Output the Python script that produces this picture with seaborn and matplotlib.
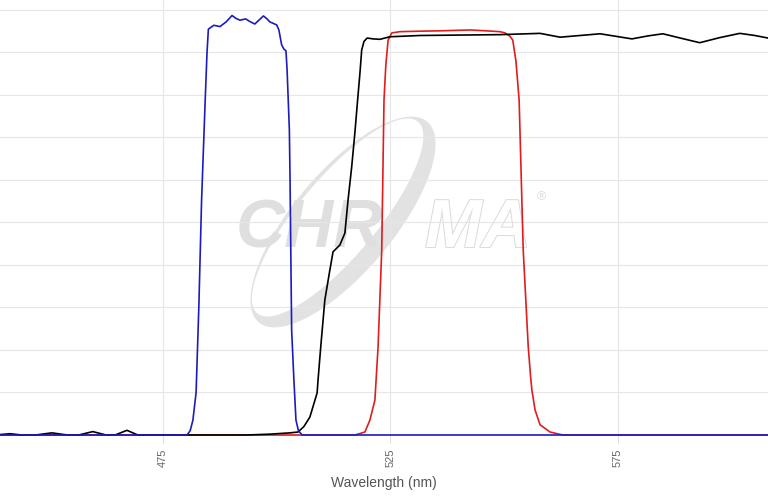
import matplotlib
matplotlib.use("Agg")
import matplotlib.pyplot as plt
import matplotlib.patheffects as pe
from matplotlib.patches import PathPatch
from matplotlib.path import Path
from matplotlib.transforms import Affine2D
import seaborn as sns
import numpy as np
import pandas as pd

# transmission spectra (wavelength nm, % transmission)
exciter_wl = [439.2, 480.3, 481.0, 481.6, 482.3, 482.9, 483.5, 484.3, 484.7, 485.0,
              486.2, 487.55, 488.9, 490.2, 491.1, 491.95, 493.2, 494.1, 495.2, 496.1,
              497.1, 497.9, 498.5, 500.0, 500.5, 501.1, 501.6, 502.05, 502.3, 502.8,
              502.95, 503.3, 503.8, 504.25, 504.8, 505.6, 608.0]
exciter_t = [0, 0, 1, 3.5, 10, 30, 55, 78.8, 90, 95.5,
             96.4, 96.1, 97.2, 98.7, 98.0, 97.6, 97.9, 97.3, 96.7, 97.6,
             98.6, 97.9, 97.2, 96.5, 95.3, 91.8, 90.8, 90.4, 85.9, 71.8,
             60, 24.7, 12.9, 3.5, 1.0, 0, 0]

dichroic_wl = [439.2, 441.4, 444, 447, 450.6, 454, 456.5, 459.6, 462.5, 464.5,
               467.1, 469.5, 475, 493.5, 498.5, 502.9, 504.7, 506.0, 507.3, 508.9,
               509.1, 509.7, 510.6, 511.7, 512.4, 513.9, 515.0, 515.7, 516.5, 517.2,
               517.8, 518.3, 518.7, 519.2, 519.9, 521.2, 522.7, 524.9, 531.5, 540.3,
               549.1, 557.9, 562.3, 566.7, 571.1, 574.6, 578.1, 581.6, 584.9, 589.1,
               593.0, 597.4, 601.8, 605.1, 608.0]
dichroic_t = [0.1, 0.3, 0, 0, 0.5, 0, 0, 0.8, 0, 0,
              1.1, 0, 0, 0, 0.2, 0.5, 0.7, 2.0, 4.2, 9.9,
              12.9, 20.8, 31.8, 38.8, 43.1, 44.7, 47.5, 55.3, 63.1, 71.1,
              78.8, 85.0, 90.6, 92.6, 93.4, 93.2, 93.1, 93.7, 94.0, 94.1,
              94.2, 94.5, 93.6, 94.0, 94.4, 93.8, 93.2, 93.9, 94.4, 93.3,
              92.3, 93.5, 94.5, 94.0, 93.4]

emitter_wl = [439.2, 517.2, 519.4, 520.5, 521.6, 522.3, 523.1, 523.6, 524.0, 524.5,
              525.3, 527.1, 531.0, 535.9, 542.5, 546.0, 549.1, 550.2, 551.3, 551.9,
              552.6, 553.3, 554.2, 555.3, 555.8, 556.1, 556.8, 557.9, 560.1, 562.9,
              608.0]
emitter_t = [0, 0, 0.7, 3.5, 8.2, 20.8, 43.5, 78.8, 87.0, 92.9,
             94.6, 94.9, 95.0, 95.1, 95.3, 95.1, 94.9, 94.6, 93.8, 92.9,
             88.0, 78.8, 43.5, 20.8, 14.0, 10.6, 5.9, 2.4, 0.7, 0,
             0]

x_ticks = [475, 525, 575]

sns.set_style("whitegrid", {"grid.color": "#e6e6e6", "axes.edgecolor": "white"})
plt.rcParams["font.family"] = ["Liberation Sans", "DejaVu Sans"]

fig = plt.figure(figsize=(7.68, 4.97), dpi=100)
ax = fig.add_axes([0, 62 / 497, 1, 1 - 62 / 497])
ax.set_axisbelow(True)

# pixel coordinates (origin top-left) for the faint watermark
px = Affine2D().scale(1 / 768, -1 / 497).translate(0, 1) + fig.transFigure


def ellipse_pts(cx, cy, a, b, ang):
    th = np.linspace(0, 2 * np.pi, 240)
    ca, sa = np.cos(np.radians(ang)), np.sin(np.radians(ang))
    x, y = a * np.cos(th), b * np.sin(th)
    return np.column_stack([cx + x * ca - y * sa, cy - (x * sa + y * ca)])


outer = ellipse_pts(343, 222, 131, 50, 50)
inner = ellipse_pts(337.6, 217.5, 125, 39, 50)[::-1]
ring = Path.make_compound_path(Path(outer, closed=True), Path(inner, closed=True))
ax.add_patch(PathPatch(ring, facecolor="#e2e2e2", edgecolor="none",
                       transform=px, zorder=0.1))

logo_font = dict(family=["Liberation Sans"], fontweight="bold", style="italic",
                 fontsize=49)
ax.text(236, 247, "CHR", transform=px, ha="left", va="baseline",
        color="#dfdfdf", zorder=0.2, **logo_font)
ax.text(425, 247, "MA", transform=px, ha="left", va="baseline",
        color="white", zorder=0.2,
        path_effects=[pe.withStroke(linewidth=1.5, foreground="#dcdcdc")], **logo_font)
ax.text(541, 197, "®", transform=px, ha="center", va="center",
        fontsize=9, color="#dddddd", zorder=0.2)

curves = [
    (emitter_wl, emitter_t, "#e01c1c"),
    (dichroic_wl, dichroic_t, "black"),
    (exciter_wl, exciter_t, "#1c1cbe"),
]
for wl, t, col in curves:
    df = pd.DataFrame({"wl": wl, "t": t})
    sns.lineplot(data=df, x="wl", y="t", color=col, linewidth=1.2,
                 estimator=None, sort=False, ax=ax, clip_on=False)

ax.set_xlim(439.2, 608.0)
ax.set_ylim(0, 102.35)
ax.set_xticks(x_ticks)
ax.set_xticklabels([str(v) for v in x_ticks], rotation=90, fontsize=8, color="#666666")
ax.set_yticks(range(0, 101, 10))
ax.set_yticklabels([])
ax.tick_params(axis="x", length=6, color="#dddddd", bottom=True, pad=4)
ax.tick_params(axis="y", length=0)
ax.set_xlabel("Wavelength (nm)", fontsize=10, color="#555555", labelpad=6)
ax.set_ylabel("")
for s in ax.spines.values():
    s.set_visible(False)

fig.savefig("out.png", dpi=100)
